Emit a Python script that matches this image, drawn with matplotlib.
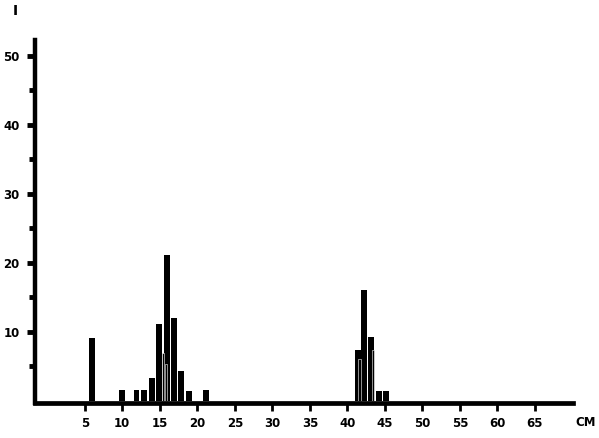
import matplotlib.pyplot as plt

# peaks: position (cm) and intensity (I)
peak_pos = [6.0, 10.0, 11.9, 12.9, 14.0, 14.9, 16.0, 16.9, 17.8, 18.9, 21.1,
            41.4, 42.2, 43.1, 44.2, 45.1]
peak_val = [9.1, 1.6, 1.6, 1.6, 3.3, 11.1, 21.2, 12.0, 4.3, 1.4, 1.6,
            7.4, 16.0, 9.2, 1.4, 1.4]
# lower overlapping peaks inside the clusters
inner_pos = [15.4, 15.8, 41.6, 43.4]
inner_val = [7.0, 5.4, 6.0, 7.4]

x_ticks = [5, 10, 15, 20, 25, 30, 35, 40, 45, 50, 55, 60, 65]
y_ticks = [10, 20, 30, 40, 50]
y_minor = [5, 15, 25, 35, 45]

plt.rcParams['font.family'] = ['DejaVu Sans']
plt.rcParams['font.weight'] = 'bold'

fig = plt.figure(figsize=(5.99, 4.38), dpi=100)
ax = fig.add_axes([0.058, 0.08, 0.899, 0.829])

ax.bar(peak_pos, peak_val, width=0.78, color='black', linewidth=0)
ax.bar(inner_pos, inner_val, width=0.35, color='black', edgecolor='white', linewidth=0.4)

ax.set_xlim(-1.67, 70.1)
ax.set_ylim(-0.3, 52.3)

for s in ['top', 'right']:
    ax.spines[s].set_visible(False)
ax.spines['left'].set_linewidth(3.2)
ax.spines['bottom'].set_linewidth(3.4)

ax.set_xticks(x_ticks)
ax.set_xticklabels([str(v) for v in x_ticks], fontsize=8.5, fontweight='bold')
ax.set_yticks(y_ticks)
ax.set_yticklabels([str(v) for v in y_ticks], fontsize=8.5, fontweight='bold')
ax.set_yticks(y_minor, minor=True)
ax.tick_params(axis='x', direction='out', length=6, width=2, pad=4)
ax.tick_params(axis='y', which='major', direction='out', length=6, width=3.5, pad=5)
ax.tick_params(axis='y', which='minor', direction='out', length=4, width=3.5)

fig.text(596 / 599, 1 - 423 / 438, 'CM', ha='right', va='center', fontsize=8.5, fontweight='bold')
fig.text(15 / 599, 1 - 11 / 438, 'I', ha='center', va='center', fontsize=10, fontweight='bold')

plt.savefig('out.png', dpi=100)
